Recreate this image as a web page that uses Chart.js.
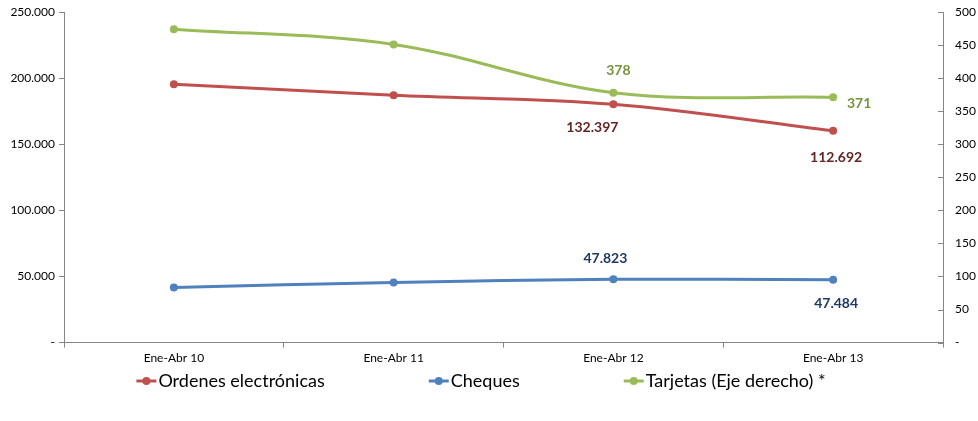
<!DOCTYPE html>
<html>
<head>
<meta charset="utf-8">
<script src="https://cdn.jsdelivr.net/npm/chart.js@4/dist/chart.umd.min.js"></script>
<style>
  html, body { margin: 0; padding: 0; background: #fff; }
  #wrap { width: 978px; height: 421px; }
</style>
</head>
<body>
<div id="wrap"><canvas id="chart"></canvas></div>
<script>
// data
const categories = ["Ene-Abr 10", "Ene-Abr 11", "Ene-Abr 12", "Ene-Abr 13"];
const ordenes = [153700, 141600, 132397, 112692];   // plotted stacked on cheques
const cheques = [41700, 45500, 47823, 47484];
const tarjetas = [474, 451, 378, 371];              // right axis
const leftTicks = [0, 50000, 100000, 150000, 200000, 250000];
const rightTicks = [0, 50, 100, 150, 200, 250, 300, 350, 400, 450, 500];

const ordenesStacked = ordenes.map((v, i) => v + cheques[i]);

const RED = "#C0504D", BLUE = "#4F81BD", GREEN = "#9BBB59";
const AXIS = "#868686";
const FONT = "Lato, 'Open Sans', sans-serif";

function fmt(v) {
  if (v === 0) return "-";
  return String(v).replace(/\B(?=(\d{3})+(?!\d))/g, ".");
}

// which points get a value label, and where it sits relative to the point
const pointLabels = [
  { ds: 0, idx: 2, dx: -21, dy: 23, color: "#632523", values: ordenes },
  { ds: 0, idx: 3, dx: 3, dy: 27, color: "#632523", values: ordenes },
  { ds: 1, idx: 2, dx: -8, dy: -21, color: "#1F3864", values: cheques },
  { ds: 1, idx: 3, dx: 3, dy: 24, color: "#1F3864", values: cheques },
  { ds: 2, idx: 2, dx: 5, dy: -22, color: "#76933C", values: tarjetas },
  { ds: 2, idx: 3, dx: 26, dy: 6, color: "#76933C", values: tarjetas }
];

const labelPlugin = {
  id: "pointLabels",
  afterDatasetsDraw(chart) {
    const ctx = chart.ctx;
    ctx.save();
    ctx.font = "bold 14px " + FONT;
    ctx.textAlign = "center";
    ctx.textBaseline = "middle";
    pointLabels.forEach(l => {
      const pt = chart.getDatasetMeta(l.ds).data[l.idx];
      ctx.fillStyle = l.color;
      ctx.fillText(fmt(l.values[l.idx]), pt.x + l.dx, pt.y + l.dy);
    });
    ctx.restore();
  }
};

// right axis has its tick marks pointing into the plot
const innerTicks = {
  id: "innerTicks",
  afterDraw(chart) {
    const s = chart.scales.y1, ctx = chart.ctx;
    ctx.save();
    ctx.strokeStyle = AXIS;
    ctx.lineWidth = 1;
    s.ticks.forEach(t => {
      const y = Math.round(s.getPixelForValue(t.value)) + 0.5;
      ctx.beginPath();
      ctx.moveTo(s.left - 5, y);
      ctx.lineTo(s.left, y);
      ctx.stroke();
    });
    ctx.restore();
  }
};

// legend drawn by hand so the gaps between entries can be wide
const legendPlugin = {
  id: "lineLegend",
  afterDraw(chart) {
    const ctx = chart.ctx;
    const gap = 104, mark = 20;
    ctx.save();
    ctx.font = "18px " + FONT;
    ctx.textBaseline = "middle";
    const items = chart.data.datasets.map(d => ({ text: d.label, color: d.borderColor, w: mark + 2 + ctx.measureText(d.label).width }));
    const total = items.reduce((a, b) => a + b.w, 0) + gap * (items.length - 1);
    let x = (chart.width - total) / 2 - 8;
    const y = chart.height - 40;
    items.forEach(it => {
      ctx.strokeStyle = it.color;
      ctx.lineWidth = 3;
      ctx.beginPath(); ctx.moveTo(x, y); ctx.lineTo(x + mark, y); ctx.stroke();
      ctx.fillStyle = it.color;
      ctx.beginPath(); ctx.arc(x + mark / 2, y, 4, 0, Math.PI * 2); ctx.fill();
      ctx.fillStyle = "#000";
      ctx.fillText(it.text, x + mark + 2, y);
      x += it.w + gap;
    });
    ctx.restore();
  }
};

function lineSet(label, data, color, axis) {
  return {
    label: label,
    data: data,
    yAxisID: axis,
    borderColor: color,
    backgroundColor: color,
    borderWidth: 3,
    pointRadius: 4,
    pointHoverRadius: 4,
    pointBackgroundColor: color,
    pointBorderWidth: 0,
    tension: 0.35,
    fill: false
  };
}

function trimY(width) {
  return function (scale) {
    scale.width = width;
    scale.paddingTop = 0;
    scale.paddingBottom = 0;
  };
}

new Chart(document.getElementById("chart"), {
  type: "line",
  data: {
    labels: categories,
    datasets: [
      lineSet("Ordenes electrónicas", ordenesStacked, RED, "y"),
      lineSet("Cheques", cheques, BLUE, "y"),
      lineSet("Tarjetas (Eje derecho) *", tarjetas, GREEN, "y1")
    ]
  },
  plugins: [labelPlugin, innerTicks, legendPlugin],
  options: {
    responsive: true,
    maintainAspectRatio: false,
    animation: false,
    layout: { padding: { top: 12, bottom: 53, left: 0, right: 0 } },
    plugins: {
      tooltip: { enabled: false },
      legend: { display: false }
    },
    scales: {
      x: {
        offset: true,
        border: { color: AXIS, width: 1 },
        grid: { display: true, drawOnChartArea: false, drawTicks: true, tickLength: 5, color: AXIS, offset: true },
        ticks: { color: "#000", font: { family: FONT, size: 12 }, padding: 3, maxRotation: 0 }
      },
      y: {
        position: "left",
        min: 0, max: 250000,
        afterBuildTicks(scale) { scale.ticks = leftTicks.map(v => ({ value: v })); },
        afterFit: trimY(64),
        border: { color: AXIS, width: 1 },
        grid: { display: true, drawOnChartArea: false, drawTicks: true, tickLength: 5, color: AXIS },
        ticks: { color: "#000", font: { family: FONT, size: 12 }, padding: 4, callback: v => fmt(v) }
      },
      y1: {
        position: "right",
        min: 0, max: 500,
        afterBuildTicks(scale) { scale.ticks = rightTicks.map(v => ({ value: v })); },
        afterFit: trimY(35),
        border: { color: AXIS, width: 1 },
        grid: { display: false, drawOnChartArea: false, drawTicks: false },
        ticks: { color: "#000", font: { family: FONT, size: 12 }, padding: 12, callback: v => fmt(v) }
      }
    }
  }
});
</script>
</body>
</html>
